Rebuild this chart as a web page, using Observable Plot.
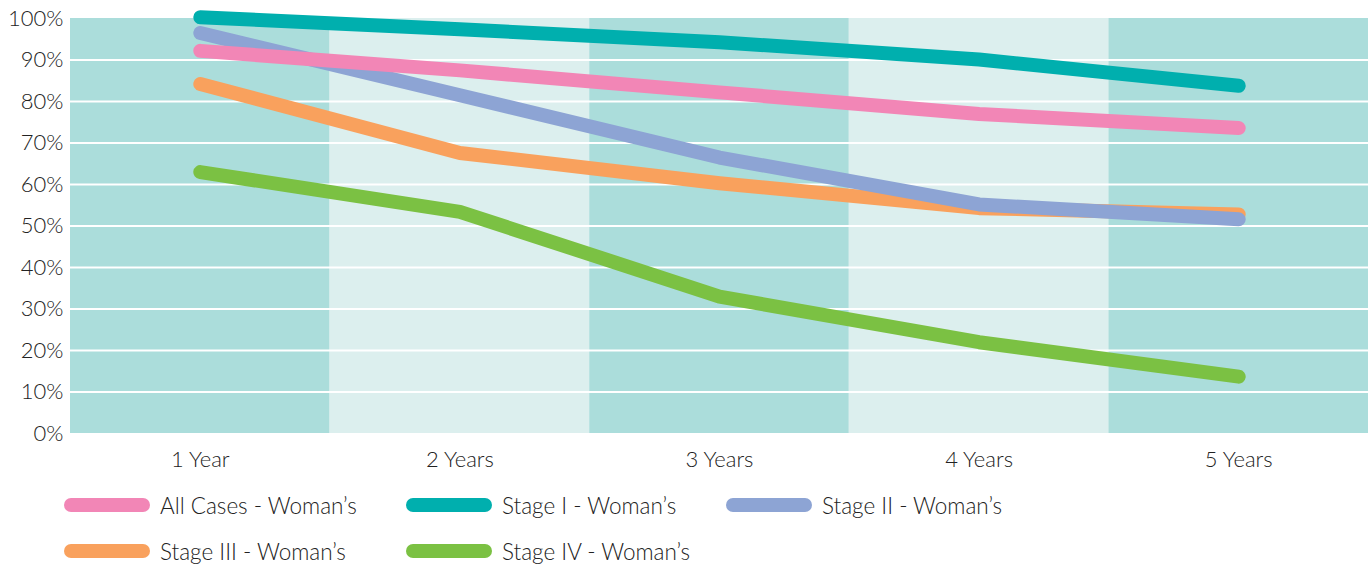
<!DOCTYPE html>
<html>
<head>
<meta charset="utf-8">
<script src="https://cdn.jsdelivr.net/npm/d3@7"></script>
<script src="https://cdn.jsdelivr.net/npm/@observablehq/plot@0.6"></script>
<style>
  html, body { margin: 0; padding: 0; background: #fff; }
  body { width: 1369px; height: 565px; overflow: hidden; font-family: Lato, "Open Sans", sans-serif; font-weight: 300; color: #222; }
  #legend { position: relative; height: 87px; }
  .item { position: absolute; display: flex; align-items: center; font-size: 22.5px; height: 30px; }
  .sw { width: 86px; height: 14px; border-radius: 7px; margin-right: 10px; }
</style>
</head>
<body>
<div id="chart"></div>
<div id="legend"></div>
<script>
const years = ["1 Year", "2 Years", "3 Years", "4 Years", "5 Years"];
const seriesNames = ["All Cases - Woman’s", "Stage I - Woman’s", "Stage II - Woman’s", "Stage III - Woman’s", "Stage IV - Woman’s"];
const seriesColors = ["#F286B6", "#00AFAE", "#8DA4D4", "#F9A15D", "#7BC143"];
const allCases = [92.2, 87.5, 82.2, 77.0, 73.6];
const stageI = [100.3, 97.4, 94.3, 90.1, 83.8];
const stageII = [96.5, 81.5, 66.5, 55.2, 51.6];
const stageIII = [84.2, 67.6, 60.3, 54.3, 52.8];
const stageIV = [63.0, 53.4, 33.0, 22.0, 13.7];
const yTicks = [0, 10, 20, 30, 40, 50, 60, 70, 80, 90, 100];
const gridTicks = [10, 20, 30, 40, 50, 60, 70, 80, 90];
const bandShades = ["#ABDDDB", "#DCEFEE"];

const values = [allCases, stageI, stageII, stageIII, stageIV];
const toRows = (arr) => arr.map((v, i) => ({x: i + 1, y: v}));
const bands = years.map((y, i) => ({x1: i + 0.5, x2: i + 1.5, shade: bandShades[i % 2]}));
const drawOrder = [3, 2, 0, 4, 1];

const plot = Plot.plot({
  width: 1369,
  height: 478,
  marginLeft: 70,
  marginRight: 1,
  marginTop: 18,
  marginBottom: 45,
  style: {fontFamily: "Lato, 'Open Sans', sans-serif", fontSize: "22px", fontWeight: 300, color: "#222", background: "transparent"},
  x: {type: "linear", domain: [0.5, 5.5], ticks: [1, 2, 3, 4, 5], tickFormat: d => years[d - 1], tickSize: 0, tickPadding: 18, label: null},
  y: {domain: [0, 100], ticks: yTicks, tickFormat: d => d + "%", tickSize: 0, tickPadding: 7, label: null},
  marks: [
    Plot.rectY(bands, {x1: "x1", x2: "x2", y1: 0, y2: 100, fill: d => d.shade}),
    Plot.ruleY(gridTicks, {stroke: "white", strokeWidth: 2}),
    ...drawOrder.map(k => Plot.line(toRows(values[k]), {x: "x", y: "y", stroke: seriesColors[k], strokeWidth: 14, strokeLinecap: "round", strokeLinejoin: "round"}))
  ],
  color: {type: "identity"}
});
document.getElementById("chart").appendChild(plot);

const legend = document.getElementById("legend");
const legendPos = [[64, 12], [406, 12], [726, 12], [64, 58], [406, 58]];
seriesNames.forEach((name, k) => {
  const el = document.createElement("div");
  el.className = "item";
  el.style.left = legendPos[k][0] + "px";
  el.style.top = legendPos[k][1] + "px";
  el.innerHTML = `<div class="sw" style="background:${seriesColors[k]}"></div><span>${name}</span>`;
  legend.appendChild(el);
});
</script>
</body>
</html>
